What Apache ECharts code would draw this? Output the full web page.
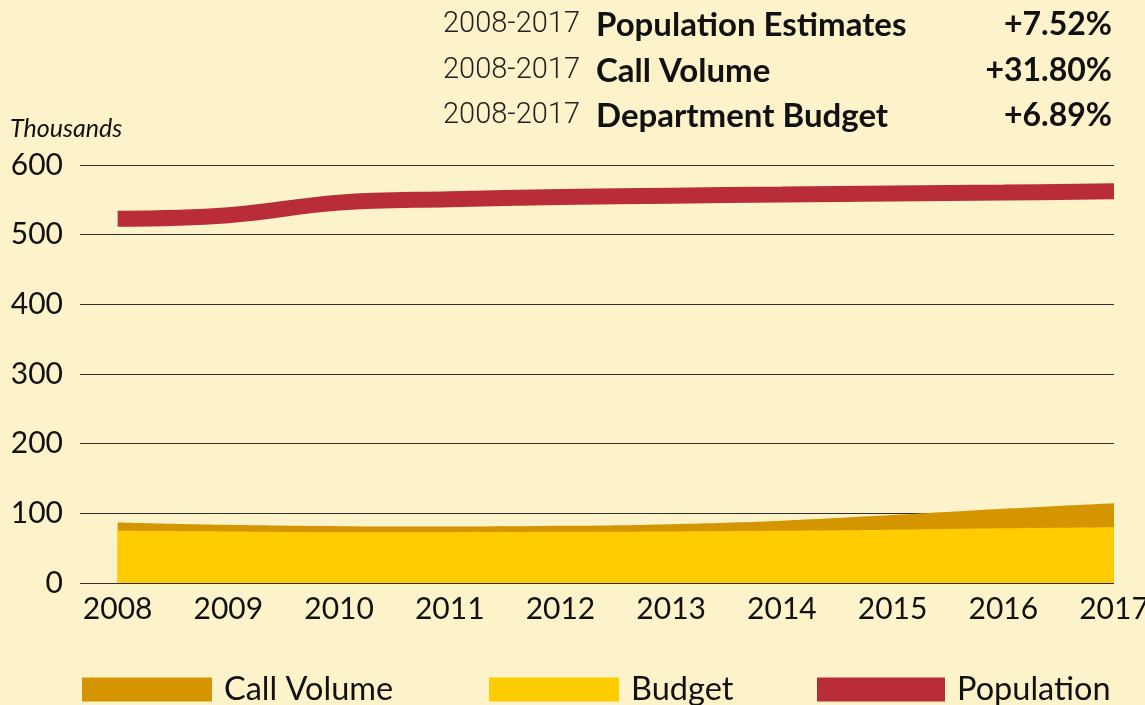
<!DOCTYPE html>
<html>
<head>
<meta charset="utf-8">
<style>
  html, body { margin: 0; padding: 0; background: #fdf3ca; }
  #chart { width: 1145px; height: 705px; }
</style>
<script src="https://cdn.jsdelivr.net/npm/echarts@6/dist/echarts.min.js"></script>
</head>
<body>
<div id="chart"></div>
<script>
// Years on the horizontal axis
const years = [2008, 2009, 2010, 2011, 2012, 2013, 2014, 2015, 2016, 2017];
// Values in thousands
const callVolume = [87, 83.5, 81.5, 81, 82, 84.5, 89.5, 97.5, 106.5, 114.5];
const budget = [75, 74, 73, 73, 73.5, 74, 75, 76.5, 78.5, 80];
const population = [523, 528, 546, 551, 554, 556, 557.5, 559, 560.5, 562.3];
// Period summary shown above the plot
const summaryPeriod = '2008-2017';
const summaryNames = ['Population Estimates', 'Call Volume', 'Department Budget'];
const summaryChanges = ['+7.52%', '+31.80%', '+6.89%'];
const yTicks = [0, 100, 200, 300, 400, 500, 600];

const FONT = 'Lato, "Open Sans", sans-serif';
const C_CALL = '#d49500';
const C_BUDGET = '#ffcc00';
const C_POP = '#b92d39';

const pairs = arr => years.map((y, i) => [y, arr[i]]);

const summaryRows = [27, 73, 118];
const graphics = [];
summaryNames.forEach((name, i) => {
  graphics.push({
    type: 'text', right: 1145 - 580, top: summaryRows[i] - 17,
    style: { text: summaryPeriod, font: '300 29px Roboto, ' + FONT, fill: '#222' }
  });
  graphics.push({
    type: 'text', left: 596, top: summaryRows[i] - 18,
    style: { text: name, font: 'bold 33px ' + FONT, fill: '#111' }
  });
  graphics.push({
    type: 'text', right: 33, top: summaryRows[i] - 18,
    style: { text: summaryChanges[i], font: 'bold 32px ' + FONT, fill: '#111' }
  });
});
graphics.push({
  type: 'text', left: 10, top: 116,
  style: { text: 'Thousands', font: 'italic 25px ' + FONT, fill: '#111' }
});

const legendBase = {
  top: 673, orient: 'horizontal', padding: 0,
  itemWidth: 130, itemHeight: 24, icon: 'rect',
  textStyle: { fontFamily: FONT, fontSize: 32.5, color: '#111', padding: [0, 0, 0, 7] }
};

const chart = echarts.init(document.getElementById('chart'));
chart.setOption({
  backgroundColor: '#fdf3ca',
  animation: false,
  graphic: graphics,
  legend: [
    Object.assign({}, legendBase, { left: 82, data: ['Call Volume'] }),
    Object.assign({}, legendBase, { left: 489, data: ['Budget'] }),
    Object.assign({}, legendBase, { left: 817, itemWidth: 128, data: ['Population'] })
  ],
  grid: { left: 80, right: 31, top: 165, bottom: 122, containLabel: false, outerBoundsMode: 'none' },
  xAxis: {
    type: 'value', min: 2007.66, max: 2017,
    axisLine: { show: false }, axisTick: { show: false }, splitLine: { show: false },
    axisLabel: {
      customValues: years, fontFamily: FONT, fontSize: 30, color: '#111', margin: 11,
      formatter: v => String(Math.round(v))
    }
  },
  yAxis: {
    type: 'value', min: 0, max: 600, interval: 100,
    axisLine: { show: false }, axisTick: { show: false },
    splitLine: { lineStyle: { color: '#2e2e2e', width: 1.2 } },
    axisLabel: { fontFamily: FONT, fontSize: 30, color: '#111', margin: 17,
      formatter: v => yTicks.includes(v) ? String(v) : '' }
  },
  series: [
    {
      name: 'Call Volume', type: 'line', data: pairs(callVolume),
      smooth: 0.4, symbol: 'none',
      itemStyle: { color: C_CALL },
      lineStyle: { width: 0 }, areaStyle: { color: C_CALL, opacity: 1 }, z: 2
    },
    {
      name: 'Budget', type: 'line', data: pairs(budget),
      smooth: 0.4, symbol: 'none',
      itemStyle: { color: C_BUDGET },
      lineStyle: { width: 0 }, areaStyle: { color: C_BUDGET, opacity: 1 }, z: 3
    },
    {
      name: 'Population', type: 'line', data: pairs(population),
      smooth: 0.4, symbol: 'none',
      itemStyle: { color: C_POP },
      lineStyle: { width: 16, color: C_POP, cap: 'butt' }, z: 4
    }
  ]
});
</script>
</body>
</html>
